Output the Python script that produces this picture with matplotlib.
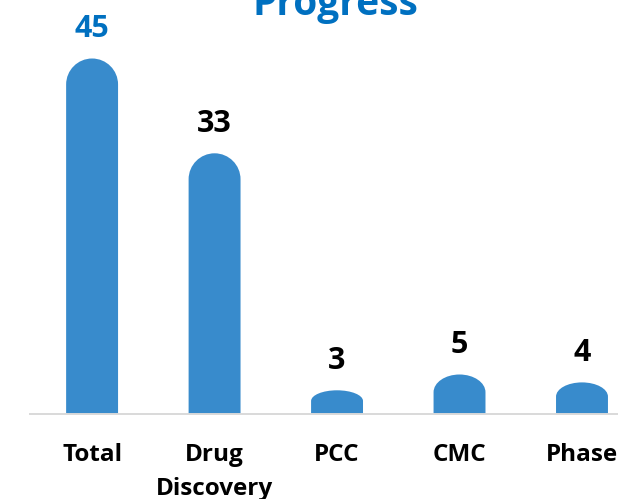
import matplotlib
matplotlib.use("Agg")
import matplotlib.pyplot as plt
from matplotlib.path import Path
from matplotlib.patches import PathPatch

CATEGORIES = ["Total", "Drug\nDiscovery", "PCC", "CMC", "Phase"]
VALUES = [45, 33, 3, 5, 4]
LABEL_COLORS = ["#0070C0", "black", "black", "black", "black"]

BAR_COLOR = "#388BCC"
TITLE_COLOR = "#0070C0"
FONT = "Open Sans"

FIG_W, FIG_H, DPI = 6.18, 4.99, 100
AX_LEFT_PX, AX_BOTTOM_PX = 30, 85
PX_PER_UNIT = 7.9
BAR_WIDTH = 0.424
K = 0.5523  # bezier constant for quarter ellipse


def rounded_bar(x, h, rx, ry_max):
    """Bar path with an elliptical cap on top."""
    ry = min(ry_max, 0.45 * h)
    y0 = h - ry
    verts = [
        (x - rx, 0), (x + rx, 0), (x + rx, y0),
        (x + rx, y0 + K * ry), (x + K * rx, h), (x, h),
        (x - K * rx, h), (x - rx, y0 + K * ry), (x - rx, y0),
        (x - rx, 0),
    ]
    codes = [Path.MOVETO, Path.LINETO, Path.LINETO,
             Path.CURVE4, Path.CURVE4, Path.CURVE4,
             Path.CURVE4, Path.CURVE4, Path.CURVE4,
             Path.CLOSEPOLY]
    return Path(verts, codes)


fig = plt.figure(figsize=(FIG_W, FIG_H), dpi=DPI)
fig_w_px, fig_h_px = FIG_W * DPI, FIG_H * DPI
ax = fig.add_axes([AX_LEFT_PX / fig_w_px, AX_BOTTOM_PX / fig_h_px,
                   1 - AX_LEFT_PX / fig_w_px, 1 - AX_BOTTOM_PX / fig_h_px])

ax_h_px = fig_h_px - AX_BOTTOM_PX
ax.set_ylim(0, ax_h_px / PX_PER_UNIT)
ax.set_xlim(-0.507, 4.294)

# circular cap radius in data units of y
x_px_per_unit = (fig_w_px - AX_LEFT_PX) / (4.294 + 0.507)
ry_circle = (BAR_WIDTH / 2) * x_px_per_unit / PX_PER_UNIT

for i, (v, c) in enumerate(zip(VALUES, LABEL_COLORS)):
    ax.add_patch(PathPatch(rounded_bar(i, v, BAR_WIDTH / 2, ry_circle),
                           facecolor=BAR_COLOR, edgecolor="none"))
    ax.annotate(str(v), (i, v), xytext=(0, 15.5), textcoords="offset points",
                ha="center", va="baseline", fontsize=22, fontweight="bold",
                color=c, family=FONT)

ax.set_xticks(range(len(CATEGORIES)))
ax.set_xticklabels(CATEGORIES, fontsize=17.5, fontweight="bold", family=FONT,
                   linespacing=1.55)
ax.tick_params(axis="x", length=0, pad=21)
ax.set_yticks([])
for side in ("top", "right", "left"):
    ax.spines[side].set_visible(False)
ax.spines["bottom"].set_color("#D9D9D9")
ax.spines["bottom"].set_linewidth(1.4)

fig.text(335 / fig_w_px, 1 - 15 / fig_h_px, "Progress", ha="center",
         va="baseline", fontsize=28, fontweight="bold", color=TITLE_COLOR,
         family=FONT)

fig.savefig("out.png", dpi=DPI)
